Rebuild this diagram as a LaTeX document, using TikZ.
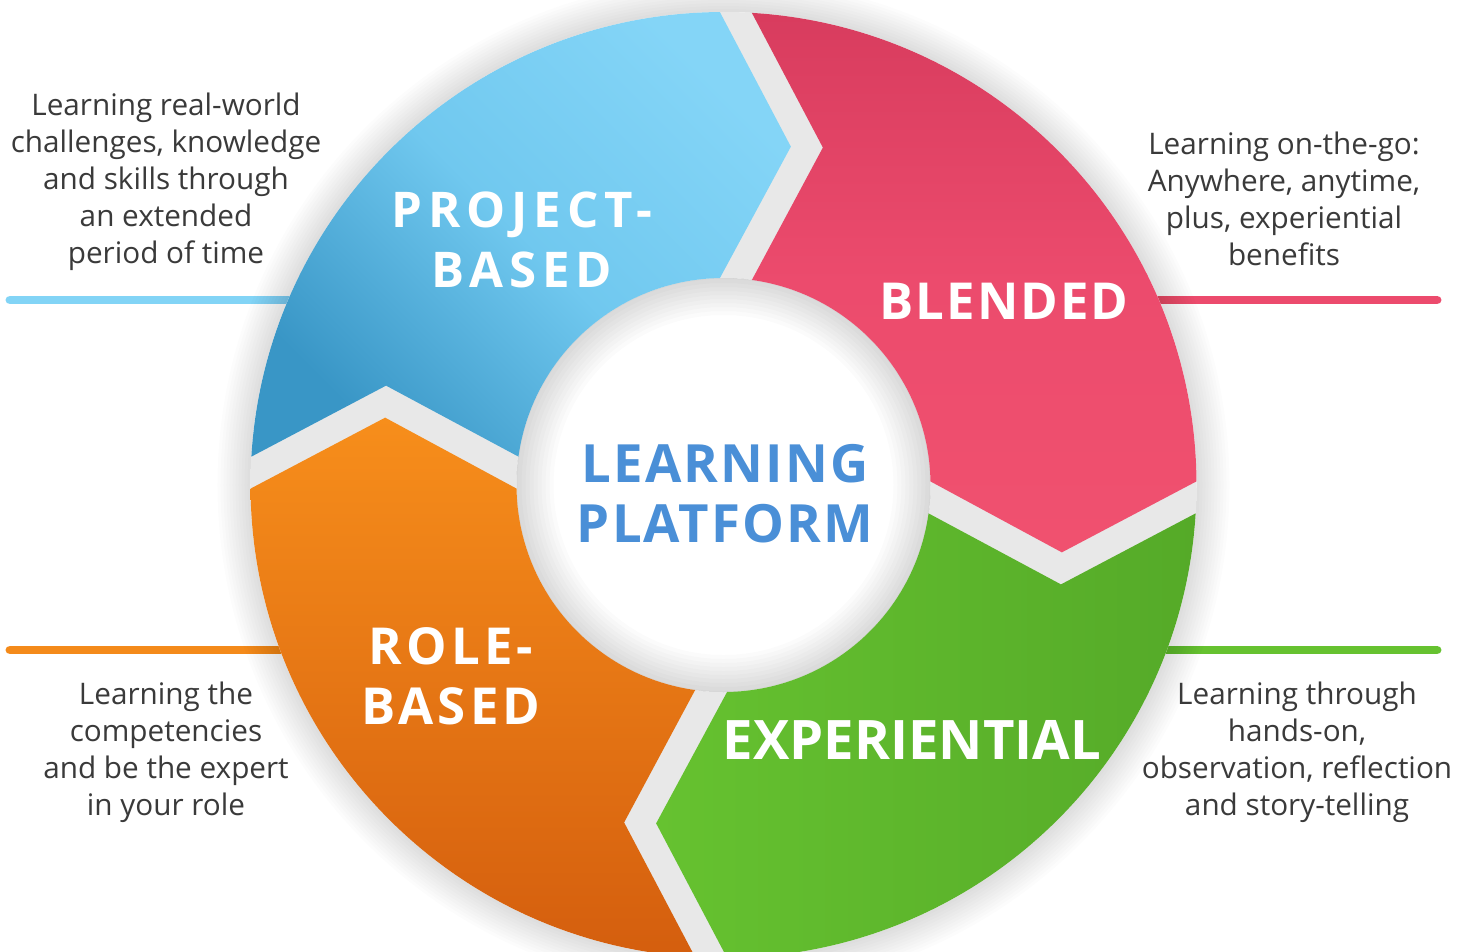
\documentclass[tikz,border=0pt]{standalone}
\usepackage{fontspec}
\setmainfont{Open Sans}
\newfontfamily\segfont{Open Sans}[LetterSpace=4]
\newfontfamily\midfont{Open Sans}[LetterSpace=8]
\newfontfamily\widefont{Open Sans}[LetterSpace=12]

\definecolor{blueA}{HTML}{84D5F7}
\definecolor{blueB}{HTML}{70C8EF}
\definecolor{blueC}{HTML}{3996C6}
\definecolor{pinkA}{HTML}{D83C5E}
\definecolor{pinkB}{HTML}{EC4B6D}
\definecolor{pinkC}{HTML}{F0516F}
\definecolor{greenA}{HTML}{66C230}
\definecolor{greenB}{HTML}{55AA28}
\definecolor{orangeA}{HTML}{F78E1B}
\definecolor{orangeB}{HTML}{D45E0E}
\definecolor{hubblue}{HTML}{4A8FD7}
\definecolor{notegray}{HTML}{3A3A3A}

\begin{document}
\begin{tikzpicture}[x=0.02cm, y=0.02cm,
    note/.style={font=\fontsize{16.9}{21}\selectfont, text=notegray, align=center, inner sep=0},
    seglabel/.style={font=\segfont\bfseries\fontsize{29}{34}\selectfont, text=white, align=center, inner sep=0},
    hubtext/.style={font=\segfont\bfseries\fontsize{30}{34}\selectfont, text=hubblue, align=center, inner sep=0},
    leader/.style={line width=5.1pt, line cap=round},
    blueseg/.style={top color=blueA, bottom color=blueC, middle color=blueB, shading angle=-45},
    pinkseg/.style={top color=pinkA, bottom color=pinkC, middle color=pinkB},
    greenseg/.style={left color=greenA, right color=greenB},
    orangeseg/.style={top color=orangeA, bottom color=orangeB}]

    \useasboundingbox (-723.5,-466) rectangle (745.5,485);
    \fill[white] (-723.5,-466) rectangle (745.5,485);

    \coordinate (O) at (0, 0);

    % Leader line ends
    \coordinate (projectEnd) at (-713.5, 185);
    \coordinate (projectRing) at (-420, 185);
    \coordinate (blendedEnd) at (713.5, 185);
    \coordinate (blendedRing) at (420, 185);
    \coordinate (roleEnd) at (-713.5, -165);
    \coordinate (roleRing) at (-420, -165);
    \coordinate (expEnd) at (713.5, -165);
    \coordinate (expRing) at (420, -165);

    % Leader lines
    \draw[leader, blueA!90!blueB] (projectEnd) -- (projectRing);
    \draw[leader, pinkB] (blendedEnd) -- (blendedRing);
    \draw[leader, orangeA!92!orangeB] (roleEnd) -- (roleRing);
    \draw[leader, greenA] (expEnd) -- (expRing);

    % Soft shadow round the ring
    \foreach \r in {476,479,...,506}
        \fill[black, opacity=0.012, even odd rule] (O) circle (473) circle (\r);

    % Ring base and hub
    \fill[black!9] (O) circle (473);
    \fill[white] (O) circle (207);
    \foreach \r in {170,174,...,206}
        \fill[black, opacity=0.016, even odd rule] (O) circle (207) circle (\r);

    % Segments
    \foreach \rot/\look in {88.5/blueseg, -1.5/pinkseg, -91.5/greenseg, 178.5/orangeseg}
        \path[\look] ({88.06+\rot}:473)
            arc[start angle={88.06+\rot}, end angle={1.94+\rot}, radius=473]
            -- ({-9.76+\rot}:345) -- ({2.49+\rot}:207)
            arc[start angle={2.49+\rot}, end angle={83.62+\rot}, radius=207]
            -- ({75.09+\rot}:351.8) -- cycle;

    % Segment labels
    \node[seglabel, font=\widefont\bfseries\fontsize{28}{34}\selectfont] (project) at (-201.5, 245) {PROJECT-\\BASED};
    \node[seglabel] (blended) at (280.5, 184) {BLENDED};
    \node[seglabel, font=\midfont\bfseries\fontsize{29}{34}\selectfont] (role) at (-272.5, -191) {ROLE-\\BASED};
    \node[seglabel, font=\bfseries\fontsize{31}{34}\selectfont] (experiential) at (188.5, -255) {EXPERIENTIAL};

    % Hub
    \node[hubtext] (hub) at (1.5, -9) {LEARNING\\PLATFORM};

    % Notes
    \node[note] (projectNote) at (-557.5, 303) {Learning real-world\\challenges, knowledge\\and skills through\\an extended\\period of time};
    \node[note] (blendedNote) at (560.5, 286) {Learning on-the-go:\\Anywhere, anytime,\\plus, experiential\\benefits};
    \node[note] (roleNote) at (-557.5, -267) {Learning the\\competencies\\and be the expert\\in your role};
    \node[note] (expNote) at (573.5, -267) {Learning through\\hands-on,\\observation, reflection\\and story-telling};

\end{tikzpicture}
\end{document}
